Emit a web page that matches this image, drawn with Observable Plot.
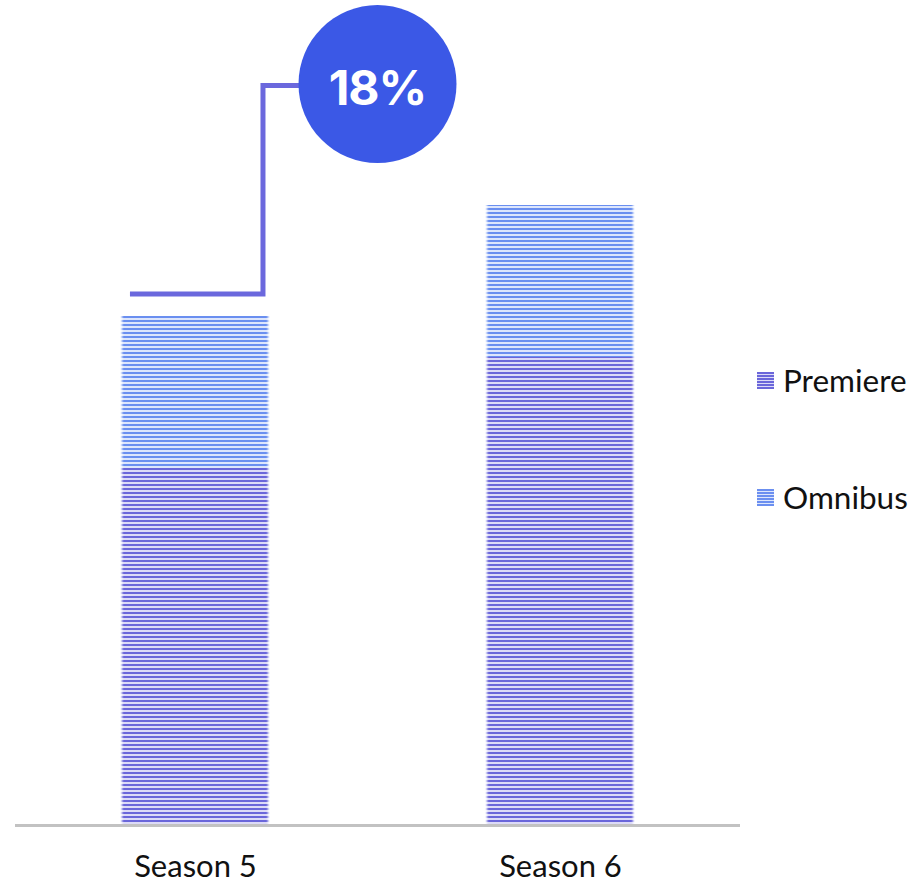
<!DOCTYPE html>
<html>
<head>
<meta charset="utf-8">
<script src="https://cdn.jsdelivr.net/npm/d3@7"></script>
<script src="https://cdn.jsdelivr.net/npm/@observablehq/plot@0.6"></script>
<style>
  html, body { margin: 0; padding: 0; background: #fff; }
  #wrap { position: relative; width: 918px; height: 884px; overflow: hidden; }
  #legend { position: absolute; left: 757px; top: 0; font-family: Lato, sans-serif; font-size: 31.5px; color: #111; }
  .item { position: absolute; left: 0; display: flex; align-items: center; white-space: nowrap; }
  .sw { width: 17px; height: 17px; margin-right: 9px; }
</style>
</head>
<body>
<div id="wrap"><div id="legend"></div></div>
<script>
const seasons = ["Season 5", "Season 6"];
const series = ["Premiere", "Omnibus"];
const premiere = [3.57, 4.68];
const omnibus = [1.52, 1.52];
const changeLabel = "18%";

const colors = {
  Premiere: {dark: "#6a66da", light: "#dcdaf7"},
  Omnibus: {dark: "#6b8ff0", light: "#dde6fc"}
};

const data = [];
seasons.forEach((s, i) => {
  data.push({season: s, series: "Premiere", value: premiere[i]});
  data.push({season: s, series: "Omnibus", value: omnibus[i]});
});

const W = 918, H = 884;
const plot = Plot.plot({
  width: W,
  height: H,
  marginLeft: 15,
  marginRight: 178,
  marginTop: 0,
  marginBottom: 59,
  style: {fontFamily: "Lato, sans-serif", background: "transparent", overflow: "visible"},
  x: {domain: seasons, paddingInner: 0.6, paddingOuter: 0.293, label: null},
  y: {domain: [0, 8.25], axis: null},
  color: {domain: series, range: series.map(s => `url(#pat-${s})`)},
  marks: [
    Plot.barY(data, Plot.stackY({x: "season", y: "value", fill: "series", order: series})),
    Plot.ruleY([0], {stroke: "#c2c2c2", strokeWidth: 3}),
    Plot.axisX({tickSize: 0, tickPadding: 29, fontSize: 31, fill: "#111", label: null})
  ]
});

const svg = d3.select(plot);
const defs = svg.insert("defs", ":first-child");
series.forEach(s => {
  const p = defs.append("pattern").attr("id", `pat-${s}`).attr("patternUnits", "userSpaceOnUse")
    .attr("width", 4).attr("height", 4);
  p.append("rect").attr("width", 4).attr("height", 4).attr("fill", colors[s].light);
  p.append("rect").attr("width", 4).attr("height", 2).attr("fill", colors[s].dark);
});
const f = defs.append("filter").attr("id", "soft").attr("x", "-5%").attr("y", "-1%").attr("width", "110%").attr("height", "102%");
f.append("feGaussianBlur").attr("stdDeviation", "1.2 0");
svg.selectAll("g[aria-label='bar'] rect").attr("filter", "url(#soft)");

// Callout annotation positioned via the chart's scales
const xs = plot.scale("x"), ys = plot.scale("y");
const xScale = d3.scaleBand().domain(xs.domain).range(xs.range).paddingInner(xs.paddingInner ?? 0.6).paddingOuter(xs.paddingOuter ?? 0.293);
const yScale = d3.scaleLinear().domain(ys.domain).range(ys.range);
const x0 = xScale(seasons[0]), bw = xScale.bandwidth();
const total0 = premiere[0] + omnibus[0];
const cx = (xScale(seasons[0]) + xScale(seasons[1]) + bw) / 2;
const cy = yScale(7.41);
const r = 79;
const lineY = yScale(total0) - 22;
const ann = svg.append("g");
ann.append("path")
  .attr("d", `M${x0 + 8},${lineY} H${x0 + bw - 5} V${cy + 1.5} H${cx}`)
  .attr("fill", "none").attr("stroke", "#6b68dd").attr("stroke-width", 5);
ann.append("circle").attr("cx", cx).attr("cy", cy).attr("r", r).attr("fill", "#3b58e6");
ann.append("text").attr("x", cx).attr("y", cy + 3).attr("text-anchor", "middle").attr("dominant-baseline", "central")
  .attr("fill", "#fff").attr("font-family", "Inter, 'Open Sans', sans-serif").attr("font-weight", 700)
  .attr("font-size", 48).attr("letter-spacing", "-1").text(changeLabel);

document.getElementById("wrap").prepend(plot);

// Legend
const legend = document.getElementById("legend");
const legendY = {Premiere: 380, Omnibus: 497};
series.forEach(s => {
  const it = document.createElement("div");
  it.className = "item";
  it.style.top = (legendY[s] - 18) + "px";
  it.style.height = "36px";
  const sw = document.createElement("div");
  sw.className = "sw";
  sw.style.background = `repeating-linear-gradient(to bottom, ${colors[s].dark} 0 2px, ${colors[s].light} 2px 3px)`;
  it.appendChild(sw);
  const t = document.createElement("span");
  t.textContent = s;
  it.appendChild(t);
  legend.appendChild(it);
});
</script>
</body>
</html>
